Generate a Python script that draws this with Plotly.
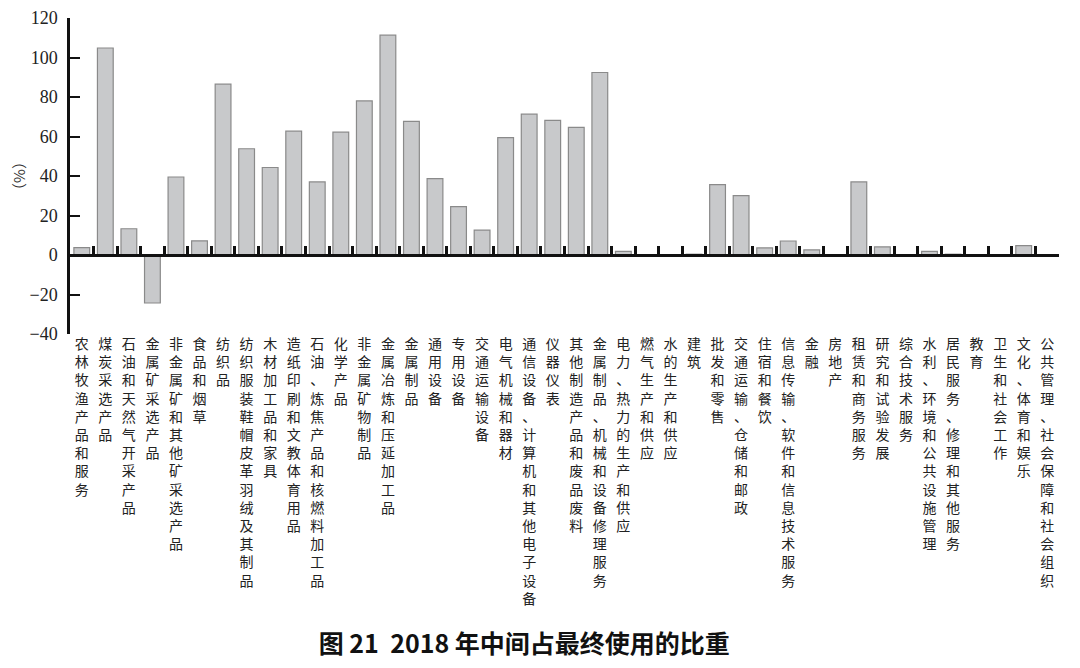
import plotly.graph_objects as go

# ------ 各产品部门 ------ #
sectors = [
    "农林牧渔产品和服务", "煤炭采选产品", "石油和天然气开采产品", "金属矿采选产品",
    "非金属矿和其他矿采选产品", "食品和烟草", "纺织品", "纺织服装鞋帽皮革羽绒及其制品",
    "木材加工品和家具", "造纸印刷和文教体育用品", "石油、炼焦产品和核燃料加工品",
    "化学产品", "非金属矿物制品", "金属冶炼和压延加工品", "金属制品", "通用设备",
    "专用设备", "交通运输设备", "电气机械和器材", "通信设备、计算机和其他电子设备",
    "仪器仪表", "其他制造产品和废品废料", "金属制品、机械和设备修理服务",
    "电力、热力的生产和供应", "燃气生产和供应", "水的生产和供应", "建筑", "批发和零售",
    "交通运输、仓储和邮政", "住宿和餐饮", "信息传输、软件和信息技术服务", "金融",
    "房地产", "租赁和商务服务", "研究和试验发展", "综合技术服务",
    "水利、环境和公共设施管理", "居民服务、修理和其他服务", "教育", "卫生和社会工作",
    "文化、体育和娱乐", "公共管理、社会保障和社会组织",
]

# ------ 中间使用占最终使用的比重 (%) ------ #
share = [
    3.7, 104.8, 13.3, -24.3, 39.5, 7.2, 86.5, 53.8, 44.3, 62.7, 37.0,
    62.2, 78.0, 111.3, 67.7, 38.7, 24.5, 12.6, 59.4, 71.3, 68.2, 64.6,
    92.4, 1.8, 0.0, 0.0, 0.4, 35.6, 30.1, 3.6, 7.1, 2.6, 0.0, 37.0,
    4.1, 0.0, 1.8, 0.4, 0.0, 0.0, 4.7, 0.0,
]

y_ticks = [-40, -20, 0, 20, 40, 60, 80, 100, 120]

# ------ 竖排标签：每个字一行 ------ #
vertical_labels = ["<br>".join(name) for name in sectors]

fig = go.Figure()
fig.add_trace(
    go.Bar(
        x=sectors,
        y=share,
        marker=dict(color="#c8c9cb", line=dict(color="#8a8a8a", width=1.2)),
        showlegend=False,
    )
)
# ------ 零线上的刻度需要一个隐形的参照序列 ------ #
fig.add_trace(
    go.Scatter(
        x=sectors,
        y=share,
        xaxis="x2",
        mode="markers",
        marker=dict(opacity=0),
        hoverinfo="skip",
        showlegend=False,
    )
)

# 页面自带约 8px 的边距，这里提前扣掉
fig.update_layout(
    width=1080,
    height=668,
    margin={"l": 62, "r": 29, "t": 10, "b": 342, "autoexpand": False},
    plot_bgcolor="white",
    paper_bgcolor="white",
    bargap=0.33,
    title=dict(
        text="<b>图 21  2018 年中间占最终使用的比重</b>",
        font=dict(family="Noto Sans CJK SC", size=25, color="#111"),
        x=0.478,
        xanchor="center",
        xref="container",
        y=1 - 636 / 668,
        yanchor="middle",
        yref="container",
    ),
    xaxis=dict(
        type="category",
        automargin=False,
        range=[-0.5, len(sectors) - 0.5],
        tickvals=sectors,
        ticktext=vertical_labels,
        tickangle=0,
        ticks="",
        showline=False,
        showgrid=False,
        ticklabeloverflow="allow",
        tickfont=dict(family="Noto Sans CJK SC", size=14, color="#222"),
    ),
    xaxis2=dict(
        type="category",
        automargin=False,
        overlaying="x",
        matches="x",
        anchor="free",
        position=0.25,
        showline=True,
        linecolor="#111",
        linewidth=2.5,
        ticks="inside",
        tickson="boundaries",
        ticklen=8,
        tickwidth=2.5,
        tickcolor="#111",
        showticklabels=False,
        showgrid=False,
    ),
    yaxis=dict(
        automargin=False,
        range=[-40, 120],
        tickvals=y_ticks,
        ticks="inside",
        ticklen=10,
        tickwidth=2,
        tickcolor="#111",
        showline=True,
        linecolor="#111",
        linewidth=2.5,
        showgrid=False,
        zeroline=False,
        ticklabelstandoff=6,
        ticklabeloverflow="allow",
        tickfont=dict(family="Liberation Serif, DejaVu Serif, serif", size=18, color="#222"),
        title=dict(
            text="（%）",
            font=dict(family="Noto Sans CJK SC", size=15, color="#333"),
            standoff=4,
        ),
    ),
)

fig.write_html("out.html")
